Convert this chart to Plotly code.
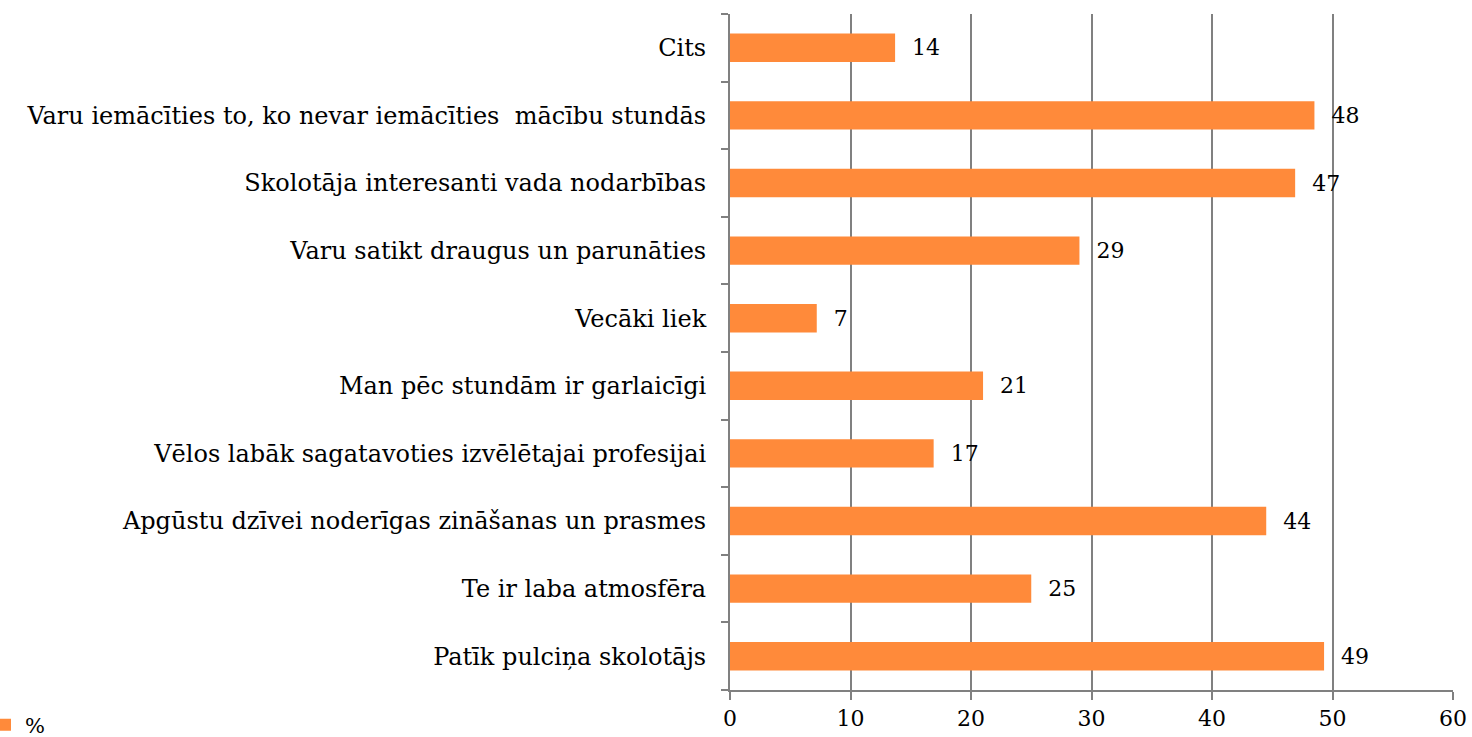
import plotly.graph_objects as go

categories = [
    "Patīk pulciņa skolotājs",
    "Te ir laba atmosfēra",
    "Apgūstu dzīvei noderīgas zināšanas un prasmes",
    "Vēlos labāk sagatavoties izvēlētajai profesijai",
    "Man pēc stundām ir garlaicīgi",
    "Vecāki liek",
    "Varu satikt draugus un parunāties",
    "Skolotāja interesanti vada nodarbības",
    "Varu iemācīties to, ko nevar iemācīties  mācību stundās",
    "Cits",
]
values = [49.3, 25.0, 44.5, 16.9, 21.0, 7.2, 29.0, 46.9, 48.5, 13.7]
labels = ["49", "25", "44", "17", "21", "7", "29", "47", "48", "14"]
x_ticks = [0, 10, 20, 30, 40, 50, 60]

FONT = "DejaVu Serif"
GRID = "#808080"

fig = go.Figure()
fig.add_trace(go.Bar(
    y=categories, x=values, orientation="h", name="%", showlegend=True,
    marker=dict(color="#FF8A3A", line=dict(width=0)),
    width=0.42,
    text=labels, texttemplate="  %{text}", textposition="outside", cliponaxis=False,
    textfont=dict(family=FONT, size=22, color="#000"),
))
fig.update_layout(
    width=1472, height=737,
    margin=dict(l=730, r=19, t=14, b=47, autoexpand=False),
    paper_bgcolor="white", plot_bgcolor="white",
    font=dict(family=FONT, size=23, color="#000"),
    showlegend=True,
    legend=dict(xref="container", yref="container", x=0.0, y=0.016,
                xanchor="left", yanchor="middle", indentation=-15,
                font=dict(size=21), itemwidth=30, bgcolor="rgba(0,0,0,0)"),
)
fig.update_xaxes(
    range=[0, 60], tickvals=x_ticks, ticktext=[str(v) for v in x_ticks],
    showgrid=True, gridcolor=GRID, gridwidth=2,
    showline=True, linecolor=GRID, linewidth=2,
    ticks="outside", ticklen=8, tickwidth=2, tickcolor=GRID,
    layer="above traces", zeroline=False, automargin=False,
    tickfont=dict(size=22),
)
fig.update_yaxes(
    type="category", tickson="boundaries",
    showline=True, linecolor=GRID, linewidth=2,
    ticks="outside", ticklen=7, tickwidth=2, tickcolor=GRID,
    showgrid=False, layer="above traces", ticklabelstandoff=17, automargin=False,
    tickfont=dict(size=24),
)
fig.write_html(
    "out.html",
    config={"displayModeBar": False},
    post_script="document.body.style.margin='0';document.body.style.overflow='hidden';",
)
